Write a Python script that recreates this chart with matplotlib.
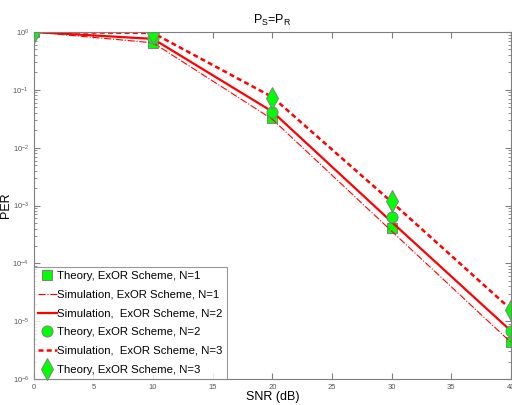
import matplotlib
matplotlib.use("Agg")
import matplotlib.pyplot as plt
from matplotlib.ticker import LogLocator, NullFormatter

plt.rcParams["font.family"] = ["Liberation Sans", "DejaVu Sans"]

snr = [0, 10, 20, 30, 40]

sim_n1 = [1.0, 0.65, 0.031, 3.6e-4, 4.3e-6]
sim_n2 = [1.0, 0.76, 0.042, 5.2e-4, 6.8e-6]
sim_n3 = [1.0, 0.96, 0.075, 1.15e-3, 1.6e-5]

theory_n1 = [1.0, 0.65, 0.033, 4.1e-4, 4.4e-6]
theory_n2 = [1.0, 0.79, 0.042, 6.3e-4, 6.7e-6]
theory_n3 = [1.0, 0.96, 0.073, 1.2e-3, 1.55e-5]

x_ticks = [0, 5, 10, 15, 20, 25, 30, 35, 40]

GREEN = "#00ff00"
RED = "#ff0000"
EDGE = "#808080"

fig = plt.figure(figsize=(5.12, 4.05), dpi=100)
ax = fig.add_axes([0.066, 0.064, 0.932, 0.857])

ax.semilogy(snr, theory_n1, "s", color=GREEN, mec=EDGE, mew=0.7, ms=7.5,
            label="Theory, ExOR Scheme, N=1")
ax.semilogy(snr, sim_n1, "-.", color=RED, lw=0.8,
            label="Simulation, ExOR Scheme, N=1")
ax.semilogy(snr, sim_n2, "-", color=RED, lw=1.6,
            label="Simulation,  ExOR Scheme, N=2")
ax.semilogy(snr, theory_n2, "o", color=GREEN, mec=EDGE, mew=0.7, ms=8,
            label="Theory, ExOR Scheme, N=2")
ax.semilogy(snr, sim_n3, "--", color=RED, lw=1.8, dashes=(2.0, 1.3),
            label="Simulation,  ExOR Scheme, N=3")
ax.semilogy(snr, theory_n3, "d", color=GREEN, mec=EDGE, mew=0.7, ms=11,
            label="Theory, ExOR Scheme, N=3")

ax.set_xlim(0, 40)
ax.set_ylim(1e-6, 1)
ax.set_xticks(x_ticks)
ax.set_xticklabels([str(t) for t in x_ticks])
ax.yaxis.set_major_locator(LogLocator(base=10, numticks=10))
ax.yaxis.set_minor_locator(LogLocator(base=10, subs=range(2, 10), numticks=10))
ax.yaxis.set_minor_formatter(NullFormatter())

for side in ["top", "bottom", "left", "right"]:
    ax.spines[side].set_color("#7f7f7f")
    ax.spines[side].set_linewidth(0.8)

ax.tick_params(which="both", direction="in", top=True, right=True,
               colors="#7f7f7f", labelcolor="#555555", labelsize=5.5)
ax.tick_params(which="major", length=4)
ax.tick_params(which="minor", length=2)

ax.set_title("P$_\\mathregular{S}$=P$_\\mathregular{R}$", fontsize=9, pad=6)
ax.set_xlabel("SNR (dB)", fontsize=9, labelpad=0)
ax.set_ylabel("PER", fontsize=9)
ax.yaxis.set_label_coords(-0.046, 0.5)

leg = ax.legend(loc="lower left", fontsize=8.2, frameon=True, fancybox=False,
                borderpad=0.4, labelspacing=0.76, handlelength=1.6,
                handletextpad=0.05, borderaxespad=0.0)
leg.get_frame().set_edgecolor("#7f7f7f")
leg.get_frame().set_linewidth(0.8)

fig.savefig("out.png", dpi=100)
